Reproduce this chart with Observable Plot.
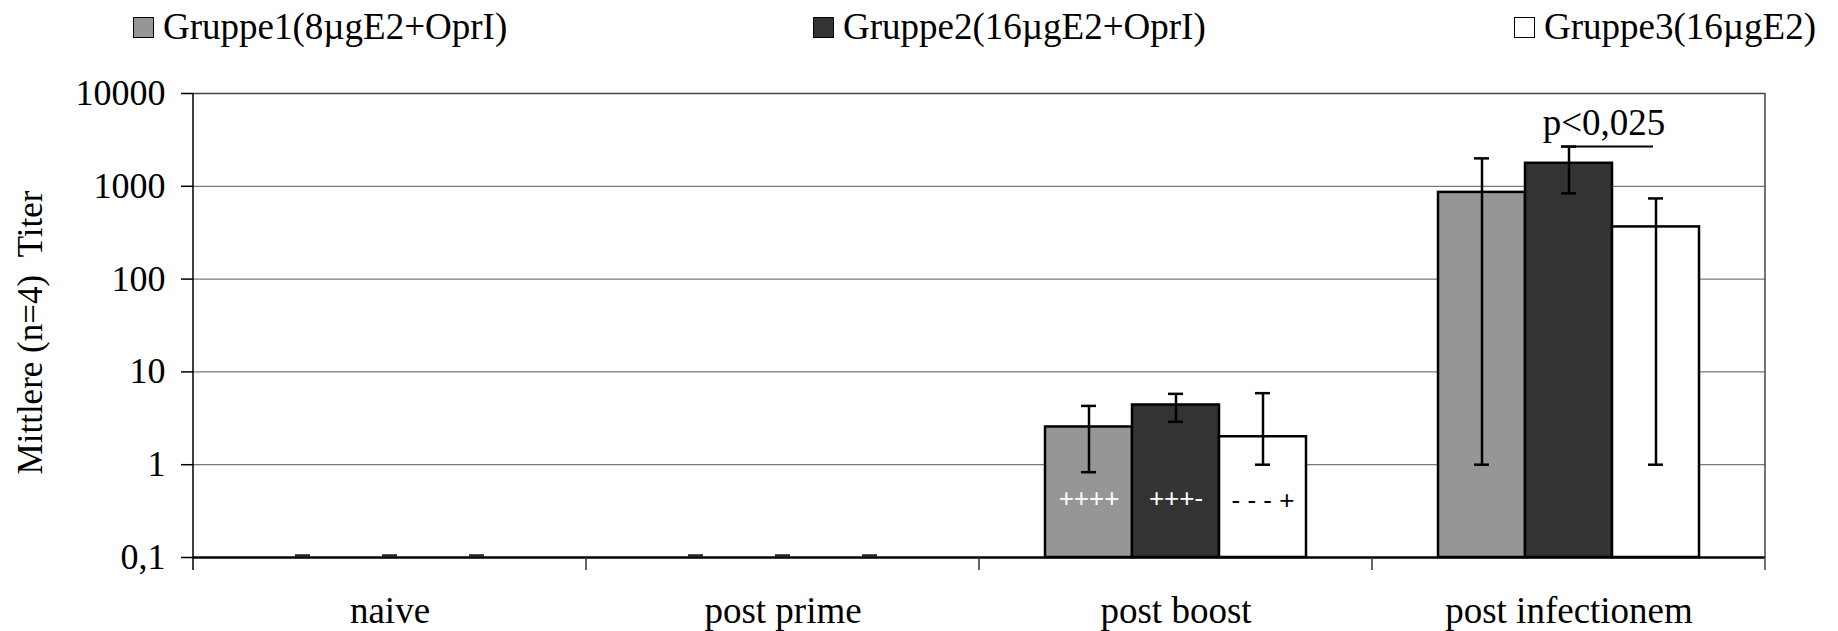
<!DOCTYPE html>
<html><head><meta charset="utf-8">
<script src="https://cdn.jsdelivr.net/npm/d3@7"></script>
<script src="https://cdn.jsdelivr.net/npm/@observablehq/plot@0.6"></script>
<style>
html,body{margin:0;padding:0;background:#fff;}
#legend{position:relative;width:1838px;height:60px;font-family:"Liberation Serif","Times New Roman",serif;font-size:37px;color:#000;}
#legend .sw{position:absolute;top:17px;width:21px;height:21px;box-sizing:border-box;border:1.5px solid #000;}
#legend .lb{position:absolute;top:8px;line-height:37px;white-space:nowrap;}
</style></head><body>
<div id="legend"></div>
<div id="chart"></div>
<script>
// ---- data ----
const categories = ["naive", "post prime", "post boost", "post infectionem"];
const groups = ["Gruppe1(8µgE2+OprI)", "Gruppe2(16µgE2+OprI)", "Gruppe3(16µgE2)"];
const groupColors = ["#969696", "#333333", "#ffffff"];
const gruppe1 = [0, 0, 2.55, 860];
const gruppe2 = [0, 0, 4.4, 1770];
const gruppe3 = [0, 0, 2.0, 365];
const gruppe1Low = [0, 0, 0.83, 1];
const gruppe1High = [0, 0, 4.3, 2000];
const gruppe2Low = [0, 0, 2.9, 840];
const gruppe2High = [0, 0, 5.8, 2680];
const gruppe3Low = [0, 0, 1.0, 1];
const gruppe3High = [0, 0, 5.9, 740];
const yTicks = [0.1, 1, 10, 100, 1000, 10000];
const yTickLabels = ["0,1", "1", "10", "100", "1000", "10000"];
const yLabel = "Mittlere (n=4)\u00a0\u00a0Titer";
const boostLabels = ["++++", "+++-", "- - - +"];
const boostLabelColors = ["#ffffff", "#ffffff", "#000000"];
const pText = "p<0,025";

// ---- build tables ----
const series = [gruppe1, gruppe2, gruppe3];
const lows = [gruppe1Low, gruppe2Low, gruppe3Low];
const highs = [gruppe1High, gruppe2High, gruppe3High];
const rows = [];
categories.forEach((c, i) => groups.forEach((g, j) => rows.push({
  category: c, group: g, value: series[j][i], low: lows[j][i], high: highs[j][i]
})));
const boostRows = groups.map((g, j) => ({category: "post boost", group: g, label: boostLabels[j], color: boostLabelColors[j]}));
const pRows = [{category: "post infectionem", from: groups[1], to: groups[2], y: gruppe2High[3], text: pText}];
const yMin = yTicks[0], yMax = yTicks[yTicks.length - 1];
const measured = rows.filter(d => d.value > 0);
const empty = rows.filter(d => !(d.value > 0));

// ---- legend ----
const legend = document.getElementById("legend");
const legendX = [133, 813, 1514];
groups.forEach((g, j) => {
  const sw = document.createElement("div");
  sw.className = "sw"; sw.style.left = legendX[j] + "px"; sw.style.background = groupColors[j];
  const lb = document.createElement("div");
  lb.className = "lb"; lb.style.left = (legendX[j] + 30) + "px"; lb.textContent = g;
  legend.appendChild(sw); legend.appendChild(lb);
});

// ---- chart ----
const plot = Plot.plot({
  width: 1838, height: 571,
  marginTop: 33, marginBottom: 74, marginLeft: 191, marginRight: 72,
  style: {fontFamily: "'Liberation Serif','Times New Roman',serif", background: "#fff", color: "#000"},
  fx: {domain: categories, padding: 0},
  x: {domain: groups, paddingInner: 0, paddingOuter: 0.745, axis: null},
  y: {type: "log", domain: [yMin, yMax]},
  color: {domain: groups, range: groupColors},
  marks: [
    Plot.ruleY(yTicks.slice(1, -1), {stroke: "#7a7a7a", strokeWidth: 1.3}),
    Plot.ruleY([yMax], {stroke: "#444", strokeWidth: 1.5}),
    Plot.barY(measured, {fx: "category", x: "group", y1: () => yMin, y2: "value", fill: "group", stroke: "#000", strokeWidth: 2.5}),
    Plot.ruleY([yMin], {stroke: "#000", strokeWidth: 2.5}),
    Plot.ruleX(measured, {fx: "category", x: "group", y1: "low", y2: "high", stroke: "#000", strokeWidth: 2.5}),
    Plot.tickY(measured, {fx: "category", x: "group", y: d => Math.max(d.low, yMin), insetLeft: 36, insetRight: 36, stroke: "#000", strokeWidth: 2.5}),
    Plot.tickY(measured, {fx: "category", x: "group", y: "high", insetLeft: 36, insetRight: 36, stroke: "#000", strokeWidth: 2.5}),
    Plot.tickY(empty, {fx: "category", x: "group", y: () => yMin, dy: -2, insetLeft: 36, insetRight: 36, stroke: "#222", strokeWidth: 2.5}),
    Plot.text(boostRows.filter(d => d.color === "#ffffff"), {fx: "category", x: "group", text: "label", fill: "#ffffff", frameAnchor: "bottom", dy: -51, fontFamily: "'Liberation Sans',Arial,sans-serif", fontSize: 26}),
    Plot.text(boostRows.filter(d => d.color !== "#ffffff"), {fx: "category", x: "group", text: "label", fill: "#000000", frameAnchor: "bottom", dy: -49, fontFamily: "'Liberation Sans',Arial,sans-serif", fontSize: 26}),
    Plot.ruleY(pRows, {fx: "category", x1: "from", x2: "to", y: "y", insetLeft: 36, insetRight: 46, stroke: "#000", strokeWidth: 2}),
    Plot.text(pRows, {fx: "category", x: "from", y: "y", text: "text", dx: 35, dy: -12, lineAnchor: "bottom", fontSize: 37}),
    Plot.axisY({ticks: yTicks, tickFormat: d => yTickLabels[yTicks.indexOf(d)], tickSize: 12, tickPadding: 16, fontSize: 36, label: null, strokeWidth: 1.5}),
    Plot.axisFx({anchor: "bottom", tickSize: 0, tickPadding: 39, fontSize: 37, label: null})
  ]
});

// axis line, category boundary ticks, right border and y title, placed with the plot's own scales
const fxS = plot.scale("fx"), yS = plot.scale("y");
const yb = yS.apply(yMin), yt = yS.apply(yMax);
const svg = d3.select(plot);
const g = svg.append("g").attr("fill", "none");
categories.forEach((c, i) => {
  const x = fxS.apply(c);
  g.append("line").attr("x1", x).attr("x2", x).attr("y1", i === 0 ? yt : yb).attr("y2", yb + 13)
    .attr("stroke", i === 0 ? "#000" : "#333").attr("stroke-width", 1.5);
});
const xr = fxS.apply(categories[categories.length - 1]) + fxS.bandwidth;
g.append("line").attr("x1", xr).attr("x2", xr).attr("y1", yt).attr("y2", yb + 13).attr("stroke", "#444").attr("stroke-width", 1.5);
svg.append("text")
  .attr("transform", `translate(31,${(yt + yb) / 2 + 7.5}) rotate(-90)`)
  .attr("text-anchor", "middle").attr("dy", "0.32em")
  .attr("font-size", 35).attr("fill", "#000")
  .text(yLabel);

document.getElementById("chart").appendChild(plot);
</script>
</body></html>
